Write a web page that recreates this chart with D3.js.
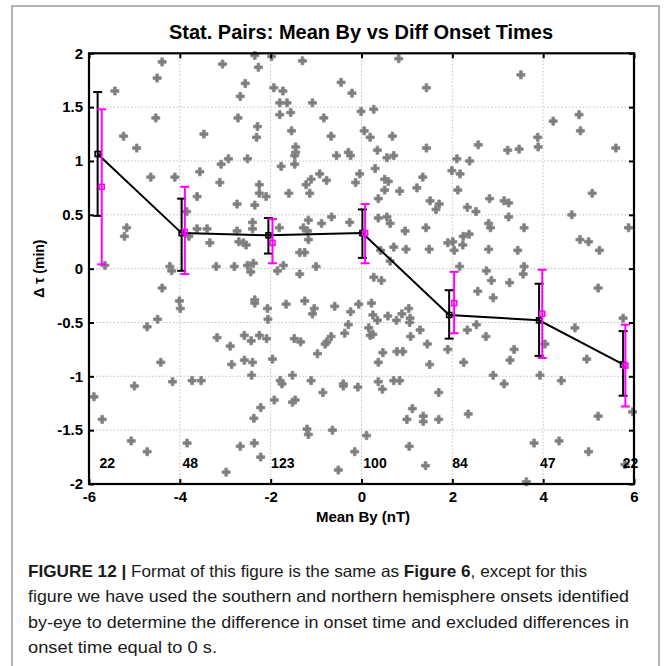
<!DOCTYPE html>
<html>
<head>
<meta charset="utf-8">
<script src="https://cdn.jsdelivr.net/npm/d3@7"></script>
<style>
  body { margin: 0; background: #fff; }
  text { font-family: 'Liberation Sans', Arial, sans-serif; }
</style>
</head>
<body>
<script>
// scatter of station pairs (mean By, delta tau)
const byVals = [
  -4.39,-4.50,-5.43,-4.53,-5.24,-4.95,-4.64,-4.11,-5.17,-5.22,-5.65,
  -3.06,-2.35,-2.27,-1.98,-2.56,-2.67,-1.93,-1.73,-1.80,-1.64,-1.30,-1.08,-0.45,-0.21,-0.01,
  -1.80,-1.56,-2.72,-0.83,-2.29,-2.31,-3.47,-1.54,-0.67,-1.45,-1.45,-1.47,-1.47,-0.55,-0.29,
  -0.24,-2.51,-2.93,-3.09,-1.77,-3.56,-3.12,-2.25,-2.25,-2.10,-3.62,-2.74,-2.35,-1.60,-1.22,
  -1.11,-0.92,-0.77,-1.14,-0.04,-0.13,-0.66,-1.17,-0.88,-0.26,-3.62,-3.40,-3.34,-3.80,-3.85,
  -2.74,-2.70,-2.60,-2.54,-2.40,-2.40,-1.81,-1.28,-1.19,-1.17,-1.36,-1.25,-1.00,-1.72,-2.38,
  -2.51,-2.80,-3.20,-4.22,
  0.82,1.43,3.51,0.27,0.06,0.19,0.68,0.35,0.56,0.71,1.43,2.57,2.10,2.38,3.22,3.47,3.88,3.89,
  4.22,4.79,4.82,5.60,0.30,0.51,0.59,0.37,0.51,0.84,1.22,1.35,1.99,2.17,2.12,1.51,1.64,1.71,
  2.33,2.52,2.82,3.14,3.24,3.24,2.80,2.84,3.58,4.63,5.08,5.88,4.81,5.00,5.24,0.37,0.56,0.63,
  0.96,1.42,0.71,0.98,1.49,0.42,1.90,2.01,2.04,2.24,2.37,2.23,2.80,3.44,2.16,3.58,0.63,
  -4.18,-2.44,-1.85,-1.36,-4.39,-4.01,-3.99,-4.49,-4.72,-4.42,-5.00,-4.16,-5.89,-5.71,-5.07,
  -4.72,-3.84,-3.73,-3.53,-3.18,-2.89,-2.86,-2.58,-2.43,-2.25,-2.09,-2.58,-2.40,-2.42,-2.35,
  -2.35,-2.07,-2.06,-1.96,-2.22,-2.37,-2.67,-2.36,-2.22,-2.98,-1.92,-1.79,-1.75,-1.52,-1.52,
  -1.46,-1.66,-1.25,-1.04,-1.08,-1.48,-1.34,-1.11,-0.97,-0.80,-0.76,-0.67,-0.59,-0.24,-0.29,
  -0.37,-0.06,-0.85,-0.40,-0.40,-0.08,-1.20,-1.17,-0.64,-0.15,-0.51,
  2.75,3.56,0.27,0.44,0.22,0.25,0.35,0.58,0.77,0.89,1.04,1.07,1.06,0.16,0.25,0.19,1.08,1.29,
  1.45,0.47,0.37,0.78,0.91,1.50,1.90,0.37,0.46,0.71,0.84,1.70,1.12,1.00,1.36,1.36,1.70,2.35,
  0.11,1.05,1.41,2.56,2.86,2.90,3.26,2.33,2.53,2.74,3.36,3.27,2.25,2.90,3.14,3.93,4.04,4.40,
  4.70,4.96,5.21,5.76,5.21,5.97,3.80,4.35,5.00,5.80,3.63
];
const dtVals = [
  1.92,1.77,1.65,1.40,1.23,1.12,0.85,0.85,0.38,0.30,0.03,
  1.90,1.98,1.87,1.97,1.72,1.60,1.68,1.65,1.54,1.54,1.93,1.54,1.73,1.63,1.46,
  1.43,1.45,1.40,1.40,1.32,1.22,1.25,1.28,1.23,1.13,1.08,1.05,0.97,1.05,1.08,
  1.05,1.02,1.02,0.97,0.95,0.90,0.80,0.78,0.70,0.67,0.67,0.60,0.59,0.70,0.78,
  0.83,0.88,0.82,0.70,0.88,0.80,0.48,0.45,0.42,0.43,0.37,0.37,0.24,0.30,0.53,
  0.35,0.25,0.24,0.22,0.43,0.37,0.38,0.38,0.35,0.27,0.15,0.15,0.02,0.03,0.05,
  0.03,0.02,0.02,0.02,
  1.95,1.68,1.80,1.48,1.28,1.22,1.23,1.10,1.03,1.05,1.12,1.15,1.02,1.00,1.10,1.11,1.22,1.13,
  1.37,1.43,1.28,1.12,0.93,0.83,0.81,0.65,0.73,0.72,0.75,0.85,0.91,0.88,0.73,0.63,0.55,0.60,
  0.57,0.53,0.65,0.63,0.61,0.48,0.42,0.38,0.38,0.50,0.70,0.38,0.27,0.25,0.17,0.47,0.48,0.42,
  0.35,0.38,0.20,0.18,0.18,0.17,0.24,0.25,0.17,0.30,0.32,0.22,0.18,0.17,0.02,0.02,0.07,
  -0.02,-0.03,-0.02,-0.05,-0.18,-0.30,-0.37,-0.47,-0.54,-0.87,-1.09,-1.05,-1.19,-1.40,-1.60,
  -1.70,-1.62,-1.04,-1.04,-0.64,-0.72,-0.89,-0.62,-0.67,-0.62,-0.65,-0.85,-0.87,-0.99,-0.29,
  -0.32,-0.37,-0.47,-0.84,-1.29,-1.39,-1.65,-1.62,-1.75,-1.89,-1.22,-1.04,-1.07,-0.99,-1.24,
  -1.22,-0.33,-0.30,-0.37,-0.42,-0.65,-0.68,-1.04,-0.79,-0.70,-0.68,-0.63,-0.35,-0.40,-0.52,
  -0.60,-0.33,-1.15,-1.07,-1.09,-1.10,-1.49,-1.54,-1.50,-1.70,-1.87,
  -0.02,-0.05,-0.08,-0.11,-0.32,-0.43,-0.48,-0.44,-0.48,-0.42,-0.37,-0.46,-0.50,-0.55,-0.61,-0.62,-0.63,-0.57,
  -0.70,-0.78,-0.87,-0.77,-0.77,-0.89,-0.75,-1.05,-1.12,-1.04,-1.04,-1.15,-1.30,-1.40,-1.37,-1.42,-1.40,-1.35,
  -1.55,-1.65,-1.83,-0.21,-0.11,-0.27,-0.13,-0.57,-0.52,-0.63,-0.75,-0.85,-0.87,-0.99,-1.07,-0.99,-0.70,-1.04,
  -0.55,-0.84,-0.18,-0.46,-1.37,-1.33,-1.62,-1.60,-1.70,-1.82,-1.98
];

// bin means (black) with error bars
const meanX = [-5.81, -3.96, -2.05, 0.02, 1.93, 3.91, 5.76];
const meanY = [1.065, 0.33, 0.31, 0.33, -0.43, -0.48, -0.89];
const meanLo = [0.49, -0.02, 0.14, 0.10, -0.65, -0.81, -1.18];
const meanHi = [1.64, 0.65, 0.47, 0.55, -0.20, -0.14, -0.58];

// bin medians (magenta) with error bars
const medX = [-5.72, -3.89, -1.96, 0.08, 2.04, 3.98, 5.81];
const medY = [0.76, 0.34, 0.24, 0.33, -0.32, -0.42, -0.90];
const medLo = [0.04, -0.05, 0.05, 0.05, -0.60, -0.83, -1.28];
const medHi = [1.48, 0.76, 0.46, 0.60, -0.03, -0.01, -0.52];

// counts per bin
const counts = ['22', '48', '123', '100', '84', '47', '22'];
const countX = [-5.77, -3.94, -1.99, 0.04, 2.00, 3.93, 5.75];

const xTicks = [-6, -4, -2, 0, 2, 4, 6];
const yTicks = [-2, -1.5, -1, -0.5, 0, 0.5, 1, 1.5, 2];

const W = 664, H = 666;
const pL = 89, pR = 634, pT = 53.3, pB = 484;

const svg = d3.select('body').append('svg')
    .attr('width', W)
    .attr('height', H);

svg.append('rect').attr('width', W).attr('height', H).attr('fill', '#fff');

// figure frame
svg.append('path')
    .attr('d', `M12,667 V6 H659 V667`)
    .attr('fill', 'none')
    .attr('stroke', '#b3b3b3')
    .attr('stroke-width', 2);

const x = d3.scaleLinear().domain([-6, 6]).range([pL, pR]);
const y = d3.scaleLinear().domain([-2, 2]).range([pB, pT]);

// grid
const grid = svg.append('g')
    .attr('stroke', '#b0b0b0')
    .attr('stroke-width', 0.8)
    .attr('stroke-dasharray', '1.5,2');
grid.selectAll('.gx')
    .data(xTicks.slice(1, -1))
    .enter().append('line')
    .attr('x1', d => x(d)).attr('x2', d => x(d))
    .attr('y1', pT).attr('y2', pB);
grid.selectAll('.gy')
    .data(yTicks.slice(1, -1))
    .enter().append('line')
    .attr('x1', pL).attr('x2', pR)
    .attr('y1', d => y(d)).attr('y2', d => y(d));

// scatter
const pts = byVals.map((d, i) => [d, dtVals[i]]);
svg.append('g').selectAll('path')
    .data(pts)
    .enter().append('path')
    .attr('d', d3.symbol().type(d3.symbolCross).size(36))
    .attr('transform', d => `translate(${x(d[0])},${y(d[1])})`)
    .attr('fill', '#7d7d7d')
    .attr('stroke', '#8a8a8a')
    .attr('stroke-width', 0.9)
    .attr('stroke-linejoin', 'round');

// axes (inward ticks on all sides, box)
const tickLen = 5;
const axB = svg.append('g').attr('transform', `translate(0,${pB})`)
    .call(d3.axisBottom(x).tickValues(xTicks).tickSize(-tickLen).tickPadding(10).tickFormat(d => String(d)));
const axT = svg.append('g').attr('transform', `translate(0,${pT})`)
    .call(d3.axisTop(x).tickValues(xTicks).tickSize(-tickLen).tickFormat(''));
const axL = svg.append('g').attr('transform', `translate(${pL},0)`)
    .call(d3.axisLeft(y).tickValues(yTicks).tickSize(-tickLen).tickPadding(6).tickFormat(d => String(d)));
const axR = svg.append('g').attr('transform', `translate(${pR},0)`)
    .call(d3.axisRight(y).tickValues(yTicks).tickSize(-tickLen).tickFormat(''));

[axB, axT, axL, axR].forEach(a => {
  a.select('.domain').remove();
  a.selectAll('.tick line').attr('stroke', '#000').attr('stroke-width', 2);
  a.selectAll('.tick text')
      .attr('font-family', "'Liberation Sans', Arial, sans-serif")
      .attr('font-size', 15)
      .attr('font-weight', 'bold')
      .attr('fill', '#000');
});
axB.selectAll('.tick text').attr('dy', '0.55em');

svg.append('rect')
    .attr('x', pL).attr('y', pT)
    .attr('width', pR - pL).attr('height', pB - pT)
    .attr('fill', 'none')
    .attr('stroke', '#000')
    .attr('stroke-width', 2.2);

// counts
svg.append('g').selectAll('text')
    .data(counts)
    .enter().append('text')
    .attr('x', (d, i) => x(countX[i]))
    .attr('y', y(-1.85))
    .attr('font-size', 14)
    .attr('font-weight', 'bold')
    .text(d => d);

// error bars helper
function errorBars(xs, ys, lo, hi, color, capW, boxSize) {
  const g = svg.append('g').attr('stroke', color).attr('stroke-width', 2).attr('fill', 'none');
  g.selectAll('.v').data(xs).enter().append('line')
      .attr('x1', d => x(d)).attr('x2', d => x(d))
      .attr('y1', (d, i) => y(lo[i])).attr('y2', (d, i) => y(hi[i]));
  g.selectAll('.lo').data(xs).enter().append('line')
      .attr('x1', d => x(d) - capW).attr('x2', d => x(d) + capW)
      .attr('y1', (d, i) => y(lo[i])).attr('y2', (d, i) => y(lo[i]));
  g.selectAll('.hi').data(xs).enter().append('line')
      .attr('x1', d => x(d) - capW).attr('x2', d => x(d) + capW)
      .attr('y1', (d, i) => y(hi[i])).attr('y2', (d, i) => y(hi[i]));
  g.selectAll('.m').data(xs).enter().append('rect')
      .attr('x', d => x(d) - boxSize / 2)
      .attr('y', (d, i) => y(ys[i]) - boxSize / 2)
      .attr('width', boxSize).attr('height', boxSize)
      .attr('stroke-width', 1.6);
}

// mean line
svg.append('path')
    .datum(meanX.map((d, i) => [d, meanY[i]]))
    .attr('d', d3.line().x(d => x(d[0])).y(d => y(d[1])))
    .attr('fill', 'none')
    .attr('stroke', '#000')
    .attr('stroke-width', 2);

errorBars(meanX, meanY, meanLo, meanHi, '#000', 4.5, 5);
errorBars(medX, medY, medLo, medHi, '#ff00ff', 4.5, 5);

// title and axis labels
svg.append('text')
    .attr('x', 361).attr('y', 39)
    .attr('text-anchor', 'middle')
    .attr('font-size', 20)
    .attr('font-weight', 'bold')
    .text('Stat. Pairs: Mean By vs Diff Onset Times');

svg.append('text')
    .attr('x', 363).attr('y', 522)
    .attr('text-anchor', 'middle')
    .attr('font-size', 15)
    .attr('font-weight', 'bold')
    .text('Mean By (nT)');

svg.append('text')
    .attr('transform', `translate(44,${y(0)}) rotate(-90)`)
    .attr('text-anchor', 'middle')
    .attr('font-size', 14)
    .attr('font-weight', 'bold')
    .text('Δ τ (min)');

// caption
const cap = svg.append('g').attr('font-size', 16.5).attr('fill', '#1a1a1a');
const l1 = cap.append('text').attr('x', 28).attr('y', 577)
    .attr('textLength', 559).attr('lengthAdjust', 'spacingAndGlyphs');
l1.append('tspan').attr('font-weight', 'bold').text('FIGURE 12 ');
l1.append('tspan').attr('font-weight', 'bold').text('|');
l1.append('tspan').text(' Format of this figure is the same as ');
l1.append('tspan').attr('font-weight', 'bold').text('Figure 6');
l1.append('tspan').text(', except for this');
cap.append('text').attr('x', 28).attr('y', 602)
    .attr('textLength', 601).attr('lengthAdjust', 'spacingAndGlyphs')
    .text('figure we have used the southern and northern hemisphere onsets identified');
cap.append('text').attr('x', 28).attr('y', 628)
    .attr('textLength', 601).attr('lengthAdjust', 'spacingAndGlyphs')
    .text('by-eye to determine the difference in onset time and excluded differences in');
cap.append('text').attr('x', 28).attr('y', 653)
    .attr('textLength', 189).attr('lengthAdjust', 'spacingAndGlyphs')
    .text('onset time equal to 0 s.');
</script>
</body>
</html>
